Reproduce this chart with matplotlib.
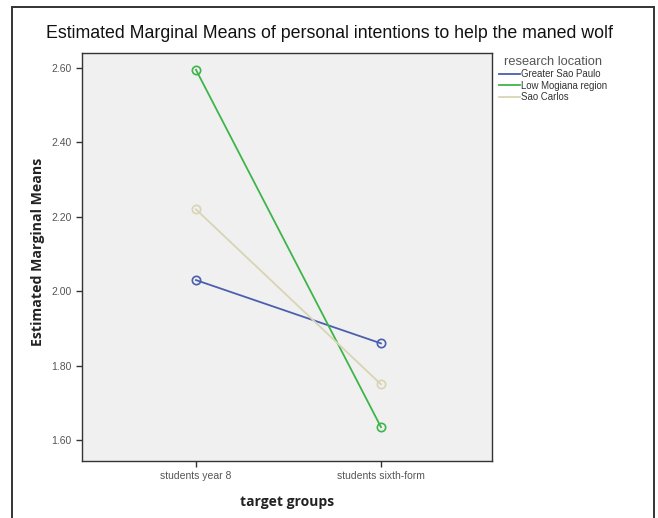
import matplotlib.pyplot as plt
from matplotlib.patches import Rectangle

groups = ["students year 8", "students sixth-form"]
locations = ["Greater Sao Paulo", "Low Mogiana region", "Sao Carlos"]
means_sao_paulo = [2.03, 1.86]
means_mogiana = [2.595, 1.635]
means_sao_carlos = [2.22, 1.75]
colors = ["#4a5fae", "#3db54a", "#d8d4b4"]

plt.rcParams["font.family"] = ["Liberation Sans", "DejaVu Sans"]

fig = plt.figure(figsize=(6.58, 5.18), dpi=100)
fig.patch.set_facecolor("white")
# outer frame, runs off the bottom edge as in the original
fig.add_artist(Rectangle((12 / 658, -10 / 518), 642 / 658, 521 / 518, transform=fig.transFigure,
                         fill=False, edgecolor="#333333", linewidth=1.4))

ax = fig.add_axes([82 / 658, 1 - 461 / 518, 410 / 658, 408 / 518])
ax.set_facecolor("#f0f0f0")

x = list(range(len(groups)))
for vals, lab, c in zip([means_sao_paulo, means_mogiana, means_sao_carlos], locations, colors):
    ax.plot(x, vals, color=c, lw=1.3, marker="o", ms=6, mfc="none", mec=c, mew=1.2, label=lab)

ax.set_xlim(-0.616, 1.6)
ax.set_ylim(1.544, 2.64)
yt = [1.6, 1.8, 2.0, 2.2, 2.4, 2.6]
ax.set_yticks(yt)
ax.set_yticklabels(["%.2f" % v for v in yt])
ax.set_xticks(x)
ax.set_xticklabels(groups)
ax.tick_params(axis="both", labelsize=7.5, colors="#333333", labelcolor="#555555", length=4, width=1)
for s in ax.spines.values():
    s.set_color("#333333")
    s.set_linewidth(1.0)

ax.set_xlabel("target groups", fontsize=10, fontweight="bold", color="#222222", labelpad=10,
              family=["Open Sans", "DejaVu Sans"])
ax.set_ylabel("Estimated Marginal Means", fontsize=10.2, fontweight="bold", color="#222222",
              family=["Open Sans", "DejaVu Sans"])
ax.yaxis.set_label_coords(-37 / 410, (461 - 252) / 408)
fig.text(330 / 658, 1 - 33 / 518, "Estimated Marginal Means of personal intentions to help the maned wolf",
         ha="center", va="center", fontsize=12.8, color="#111111")

leg = ax.legend(loc="upper left", bbox_to_anchor=(1.0, 1.01), frameon=False, fontsize=6.9,
                title="research location", handlelength=2.2, handletextpad=0.15,
                labelspacing=0.15, borderaxespad=0.3)
leg.get_title().set_fontsize(9.3)
leg.get_title().set_color("#555555")
for t in leg.get_texts():
    t.set_color("#333333")
for h in leg.legend_handles:
    h.set_marker("")

fig.savefig("out.png", dpi=100)
